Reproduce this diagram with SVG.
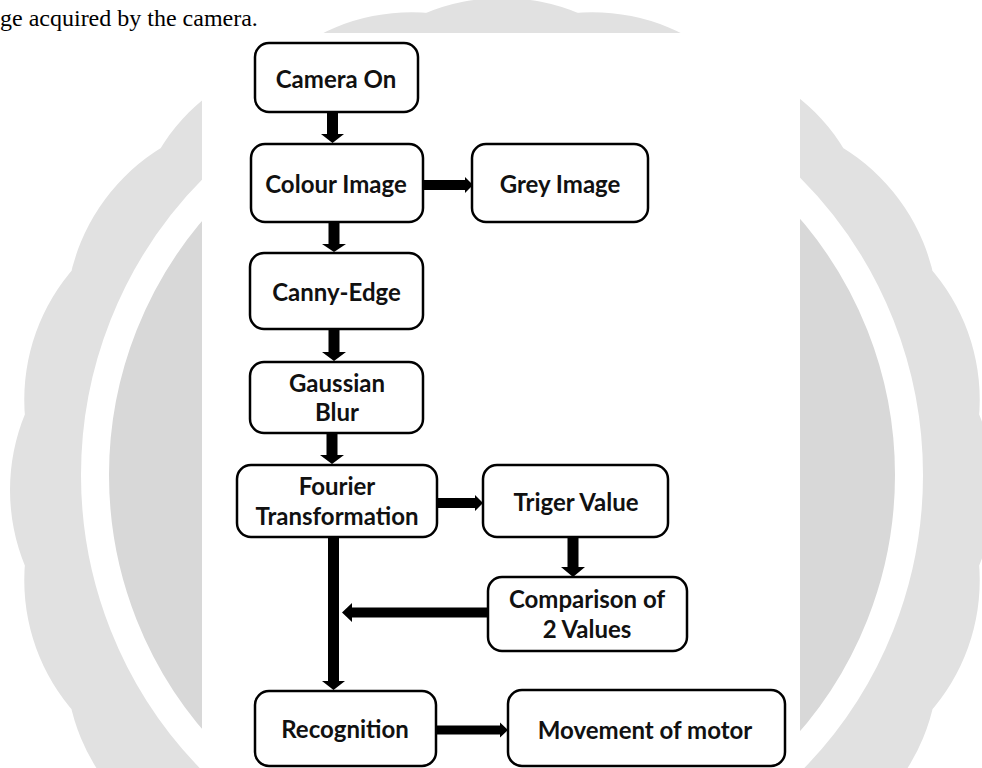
<svg xmlns="http://www.w3.org/2000/svg" width="982" height="768" viewBox="0 0 982 768">
<style>
.box{fill:#fff;stroke:#000;stroke-width:2.5}
.lbl{font-family:Lato,"Open Sans","Liberation Sans",sans-serif;font-weight:700;font-size:24px;fill:#111;text-anchor:middle}
.body{font-family:"Liberation Serif",serif;font-size:24px;fill:#000}
.arr{fill:#000}
</style>
<rect x="0" y="0" width="982" height="768" fill="#fff"/>
<g id="watermark">
<circle cx="502" cy="490" r="475" fill="#e1e1e1"/>
<circle cx="502" cy="490" r="292" fill="none" stroke="#e1e1e1" stroke-width="400" stroke-linecap="round" stroke-dasharray="0 5" pathLength="100"/>
<circle cx="502" cy="475" r="407" fill="#d8d8d8" stroke="#fff" stroke-width="28"/>
</g>
<text class="body" x="0" y="26">ge acquired by the camera.</text>
<rect x="202" y="33" width="598" height="735" fill="#fff"/>
<g id="connectors">
<polygon class="arr" points="327,112 338,112 338,134 344,134 332.5,143 321,134 327,134"/>
<polygon class="arr" points="423,180 465,180 465,177 473,185 465,193 465,190 423,190"/>
<polygon class="arr" points="328.5,222 339.5,222 339.5,244 346,244 334,252 322,244 328.5,244"/>
<polygon class="arr" points="328.5,329 339.5,329 339.5,352 346,352 334,361 322,352 328.5,352"/>
<polygon class="arr" points="326.5,433 337.5,433 337.5,455 344,455 332,464 320,455 326.5,455"/>
<polygon class="arr" points="437,498 475,498 475,495 483,503 475,511 475,508 437,508"/>
<polygon class="arr" points="567.5,537 578.5,537 578.5,567 585,567 573,577 561,567 567.5,567"/>
<polygon class="arr" points="328,537 339,537 339,681 345,681 333.5,690 322,681 328,681"/>
<polygon class="arr" points="488,607.5 352,607.5 352,603 342,612.5 352,622 352,617.5 488,617.5"/>
<polygon class="arr" points="436,725.5 500,725.5 500,722.5 508,730 500,737.5 500,734.5 436,734.5"/>
</g>
<g id="camera-on"><rect class="box" x="255" y="43" width="163" height="69" rx="14"/><text class="lbl" x="336" y="88">Camera On</text></g>
<g id="colour-image"><rect class="box" x="251" y="144" width="172" height="78" rx="14"/><text class="lbl" x="336" y="193">Colour Image</text></g>
<g id="grey-image"><rect class="box" x="472" y="144" width="176" height="78" rx="14"/><text class="lbl" x="560" y="193">Grey Image</text></g>
<g id="canny-edge"><rect class="box" x="250" y="253" width="173" height="76" rx="14"/><text class="lbl" x="336.5" y="301">Canny-Edge</text></g>
<g id="gaussian-blur"><rect class="box" x="250" y="362" width="173" height="71" rx="14"/><text class="lbl" x="337" y="392">Gaussian</text><text class="lbl" x="337" y="421">Blur</text></g>
<g id="fourier"><rect class="box" x="237" y="465" width="200" height="72" rx="14"/><text class="lbl" x="337" y="495">Fourier</text><text class="lbl" x="337" y="525">Transformation</text></g>
<g id="triger-value"><rect class="box" x="483" y="465" width="185" height="72" rx="14"/><text class="lbl" x="576" y="511">Triger Value</text></g>
<g id="comparison"><rect class="box" x="488" y="577" width="199" height="74" rx="14"/><text class="lbl" x="587" y="608">Comparison of</text><text class="lbl" x="587" y="638">2 Values</text></g>
<g id="recognition"><rect class="box" x="255" y="691" width="181" height="75" rx="14"/><text class="lbl" x="345" y="738">Recognition</text></g>
<g id="movement"><rect class="box" x="508" y="690" width="277" height="76" rx="14"/><text class="lbl" x="645" y="739">Movement of motor</text></g>
</svg>
